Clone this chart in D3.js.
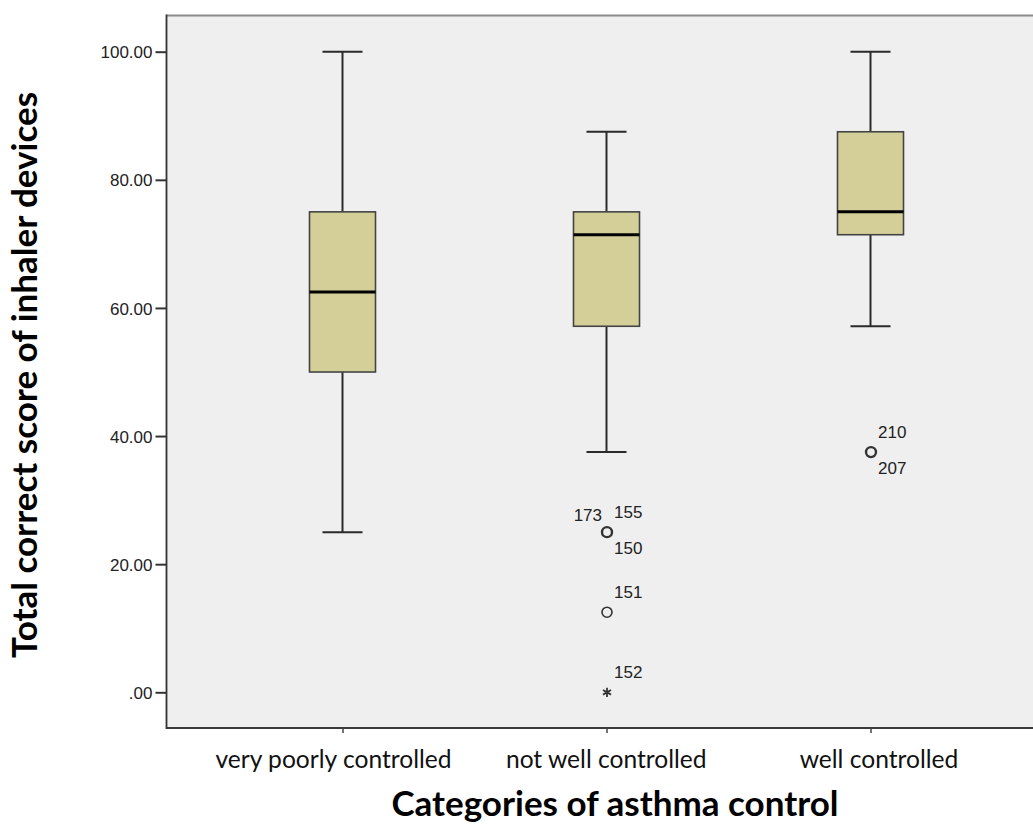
<!DOCTYPE html>
<html>
<head>
<meta charset="utf-8">
<script src="https://cdn.jsdelivr.net/npm/d3@7"></script>
<style>
  html, body { margin: 0; padding: 0; background: #ffffff; }
  svg { display: block; }
</style>
</head>
<body>
<svg id="chart" width="1033" height="830"></svg>
<script>
// Box summaries per asthma-control category
const categories = ["very poorly controlled", "not well controlled", "well controlled"];
const whiskerLow  = [25, 37.5, 57.14];
const quartile1   = [50, 57.14, 71.43];
const medians     = [62.5, 71.43, 75];
const quartile3   = [75, 75, 87.5];
const whiskerHigh = [100, 87.5, 100];

// Outlying cases: category index, value, marker kind, case ids
const outlierCategory = [1, 1, 1, 2];
const outlierValue    = [25, 12.5, 0, 37.5];
const outlierKind     = ["circle", "circle", "star", "circle"];
const outlierIds      = [["155", "150", "173"], ["151"], ["152"], ["210", "207"]];

const yTicks = [0, 20, 40, 60, 80, 100];
const yTickLabels = [".00", "20.00", "40.00", "60.00", "80.00", "100.00"];

const yTitle = "Total correct score of inhaler devices";
const xTitle = "Categories of asthma control";

const svg = d3.select("#chart");
const plot = { left: 166.5, top: 15.5, right: 1040, bottom: 728 };

const y = d3.scaleLinear().domain([0, 100]).range([692.3, 51.7]);
const x = d3.scalePoint().domain(categories).range([342.5, 870.5]);
const xLabel = d3.scalePoint().domain(categories).range([333.5, 879]);

// plot background and frame
svg.append("rect")
  .attr("x", plot.left).attr("y", plot.top)
  .attr("width", plot.right - plot.left).attr("height", plot.bottom - plot.top)
  .attr("fill", "#efefef");
svg.append("line")
  .attr("x1", plot.left).attr("x2", plot.right)
  .attr("y1", plot.top).attr("y2", plot.top)
  .attr("stroke", "#8a8a8a").attr("stroke-width", 2.2);
svg.append("line")
  .attr("x1", plot.left).attr("x2", plot.right)
  .attr("y1", plot.bottom).attr("y2", plot.bottom)
  .attr("stroke", "#3a3a3a").attr("stroke-width", 2);

// y axis
const yAxis = d3.axisLeft(y)
  .tickValues(yTicks)
  .tickFormat((d, i) => yTickLabels[i])
  .tickSize(11).tickPadding(3);
const gy = svg.append("g").attr("transform", `translate(${plot.left},0)`).call(yAxis);
gy.select(".domain").remove();
gy.selectAll(".tick line").attr("stroke", "#333").attr("stroke-width", 2);
gy.selectAll(".tick text")
  .attr("font-family", "'Liberation Sans', Arial, sans-serif")
  .attr("font-size", 17).attr("fill", "#222").attr("dy", "0.36em");
svg.append("line")
  .attr("x1", plot.left).attr("x2", plot.left)
  .attr("y1", plot.top - 1).attr("y2", plot.bottom + 1)
  .attr("stroke", "#333").attr("stroke-width", 1.8);

// x axis ticks
const xAxis = d3.axisBottom(x).tickSize(5).tickFormat("");
const gx = svg.append("g").attr("transform", `translate(0,${plot.bottom})`).call(xAxis);
gx.select(".domain").remove();
gx.selectAll(".tick line").attr("stroke", "#444").attr("stroke-width", 1.5);

// category labels
svg.append("g").selectAll("text").data(categories).join("text")
  .attr("x", d => xLabel(d)).attr("y", 768)
  .attr("text-anchor", "middle")
  .attr("font-family", "Lato, 'Open Sans', sans-serif")
  .attr("font-size", 24.6).attr("fill", "#111")
  .text(d => d);

// boxes
const boxW = 66, capW = 40;
const boxes = svg.append("g");
categories.forEach((c, i) => {
  const cx = x(c);
  const g = boxes.append("g");
  g.append("line")
    .attr("x1", cx).attr("x2", cx)
    .attr("y1", y(quartile3[i])).attr("y2", y(whiskerHigh[i]))
    .attr("stroke", "#2a2a2a").attr("stroke-width", 2);
  g.append("line")
    .attr("x1", cx).attr("x2", cx)
    .attr("y1", y(quartile1[i])).attr("y2", y(whiskerLow[i]))
    .attr("stroke", "#2a2a2a").attr("stroke-width", 2);
  [whiskerHigh[i], whiskerLow[i]].forEach(v => {
    g.append("line")
      .attr("x1", cx - capW / 2).attr("x2", cx + capW / 2)
      .attr("y1", y(v)).attr("y2", y(v))
      .attr("stroke", "#2a2a2a").attr("stroke-width", 2);
  });
  g.append("rect")
    .attr("x", cx - boxW / 2).attr("y", y(quartile3[i]))
    .attr("width", boxW).attr("height", y(quartile1[i]) - y(quartile3[i]))
    .attr("fill", "#d4cf98").attr("stroke", "#444").attr("stroke-width", 1.6);
  g.append("line")
    .attr("x1", cx - boxW / 2).attr("x2", cx + boxW / 2)
    .attr("y1", y(medians[i])).attr("y2", y(medians[i]))
    .attr("stroke", "#000").attr("stroke-width", 3);
});

// outliers and their case labels
const labelSlots = {
  ur: { dx: 7, dy: -14, anchor: "start" },
  lr: { dx: 7, dy: 22, anchor: "start" },
  ul: { dx: -5, dy: -11, anchor: "end" }
};
const slotOrder = ["ur", "lr", "ul"];
const outG = svg.append("g");
outlierValue.forEach((v, k) => {
  const cx = x(categories[outlierCategory[k]]) + 0.5;
  const cy = y(v);
  if (outlierKind[k] === "star") {
    outG.append("path")
      .attr("transform", `translate(${cx},${cy})`)
      .attr("d", d3.symbol(d3.symbolAsterisk, 60)())
      .attr("fill", "none").attr("stroke", "#333").attr("stroke-width", 1.8);
  } else {
    outG.append("circle")
      .attr("cx", cx).attr("cy", cy).attr("r", 5)
      .attr("fill", "none").attr("stroke", "#333")
      .attr("stroke-width", outlierIds[k].length > 1 ? 2.4 : 1.6);
  }
  outlierIds[k].forEach((id, j) => {
    const s = labelSlots[outlierIds[k].length === 1 ? "ur" : slotOrder[j]];
    outG.append("text")
      .attr("x", cx + s.dx).attr("y", cy + s.dy)
      .attr("text-anchor", s.anchor)
      .attr("font-family", "'Liberation Sans', Arial, sans-serif")
      .attr("font-size", 17).attr("fill", "#222")
      .text(id);
  });
});

// axis titles
svg.append("text")
  .attr("transform", "translate(37,375) rotate(-90)")
  .attr("text-anchor", "middle")
  .attr("font-family", "Lato, 'Open Sans', sans-serif")
  .attr("font-weight", "bold").attr("font-size", 35).attr("fill", "#000")
  .text(yTitle);
svg.append("text")
  .attr("x", 615).attr("y", 816)
  .attr("text-anchor", "middle")
  .attr("font-family", "Lato, 'Open Sans', sans-serif")
  .attr("font-weight", "bold").attr("font-size", 35).attr("fill", "#000")
  .text(xTitle);
</script>
</body>
</html>
